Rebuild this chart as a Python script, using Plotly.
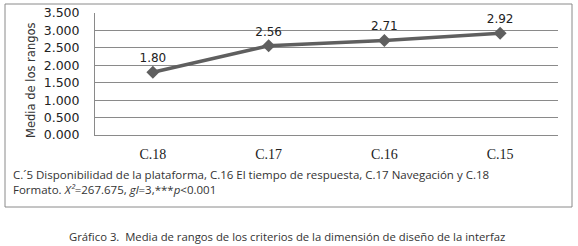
import plotly.graph_objects as go

categories = ["C.18", "C.17", "C.16", "C.15"]
values = [1.80, 2.56, 2.71, 2.92]
labels = ["1.80", "2.56", "2.71", "2.92"]
y_ticks = [0, 0.5, 1.0, 1.5, 2.0, 2.5, 3.0, 3.5]

W, H = 578, 246
L, R, T, B = 95, 20, 13, 111
PW, PH = W - L - R, H - T - B

def px(x):
    return (x - L) / PW

def py(y):
    return (H - B - y) / PH

fig = go.Figure()
fig.add_trace(go.Scatter(
    x=categories, y=values, mode="lines+markers+text",
    text=labels, textposition="top center",
    textfont=dict(family="DejaVu Sans", size=12, color="#222"),
    line=dict(color="#5f5f5f", width=3.5),
    marker=dict(symbol="diamond", size=10, color="#5f5f5f"),
    cliponaxis=False, showlegend=False, hoverinfo="skip",
))

fig.update_layout(
    width=W, height=H,
    margin=dict(l=L, r=R, t=T, b=B, autoexpand=False),
    paper_bgcolor="white", plot_bgcolor="white",
    xaxis=dict(type="category", range=[-0.5, 3.5], showgrid=False, automargin=False,
               showline=True, linecolor="#8a8a8a", linewidth=1,
               ticks="", tickfont=dict(family="Liberation Serif", size=14, color="#222"),
               ticklabelstandoff=6),
    yaxis=dict(range=[0, 3.5], tickvals=y_ticks, tickformat=".3f", automargin=False,
               showgrid=True, gridcolor="#8a8a8a", gridwidth=1,
               showline=True, linecolor="#8a8a8a", linewidth=1,
               zeroline=False, ticks="", ticklabelstandoff=12,
               tickfont=dict(family="DejaVu Sans", size=12.5, color="#222")),
    font=dict(family="DejaVu Sans"),
)

# outer chart border
fig.add_shape(type="rect", xref="paper", yref="paper",
              x0=px(5), x1=px(572), y0=py(207), y1=py(4),
              line=dict(color="#8a8a8a", width=1), layer="below")

fig.add_annotation(
    xref="paper", yref="paper", x=px(31), y=py(80),
    xanchor="center", yanchor="middle", textangle=-90, showarrow=False,
    text="Media de los rangos",
    font=dict(family="DejaVu Sans", size=11.5, color="#333"),
)

fig.add_annotation(
    xref="paper", yref="paper", x=px(11), y=py(165),
    xanchor="left", yanchor="top", align="left", showarrow=False,
    text="C.´5 Disponibilidad de la plataforma, C.16 El tiempo de respuesta, C.17 Navegación y C.18<br>"
         "Formato. <i>X²</i>=267.675, <i>gl</i>=3,***<i>p</i><0.001",
    font=dict(family="Open Sans", size=11.5, color="#333"),
)
fig.add_annotation(
    xref="paper", yref="paper", x=px(287), y=py(236),
    xanchor="center", yanchor="middle", showarrow=False,
    text="Gráfico 3.  Media de rangos de los criterios de la dimensión de diseño de la interfaz",
    font=dict(family="Open Sans", size=11.3, color="#333"),
)

fig.write_html("out.html", config={"displayModeBar": False},
               post_script="document.body.style.margin='0';document.body.style.overflow='hidden';")
